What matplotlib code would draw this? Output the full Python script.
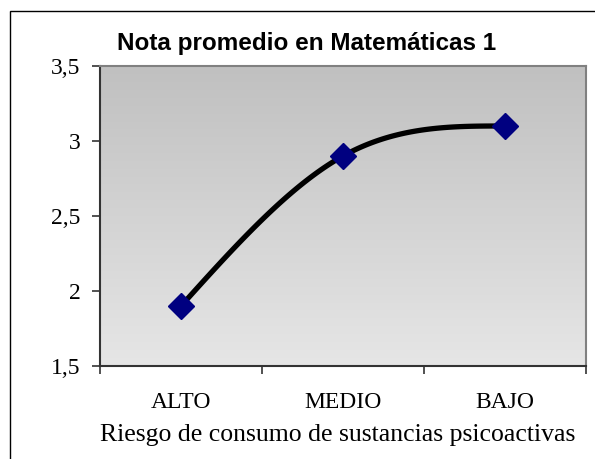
import numpy as np
import matplotlib
matplotlib.use("Agg")
import matplotlib.pyplot as plt
from matplotlib.patches import Rectangle

categories = ["ALTO", "MEDIO", "BAJO"]
notas = [1.9, 2.9, 3.1]
y_ticks = [1.5, 2, 2.5, 3, 3.5]
y_tick_labels = ["1,5", "2", "2,5", "3", "3,5"]


def smooth_curve(xs, ys, n=60):
    # curva suavizada (Hermite: tangentes Catmull-Rom dentro, extremos "naturales")
    p = np.column_stack([xs, ys]).astype(float)
    k = len(p)
    tang = np.zeros_like(p)
    for i in range(1, k - 1):
        tang[i] = (p[i + 1] - p[i - 1]) / 2
    tang[0] = (3 * (p[1] - p[0]) - tang[1]) / 2
    tang[-1] = (3 * (p[-1] - p[-2]) - tang[-2]) / 2
    t = np.linspace(0, 1, n)[:, None]
    out = []
    for i in range(k - 1):
        p1, p2 = p[i], p[i + 1]
        c1 = p1 + tang[i] / 3
        c2 = p2 - tang[i + 1] / 3
        seg = ((1 - t) ** 3) * p1 + 3 * ((1 - t) ** 2) * t * c1 + 3 * (1 - t) * t ** 2 * c2 + t ** 3 * p2
        out.append(seg)
    seg = np.vstack(out)
    return seg[:, 0], seg[:, 1]


fig = plt.figure(figsize=(5.95, 4.59), dpi=100)
ax = fig.add_axes([100 / 595, 1 - 366 / 459, 486 / 595, 300 / 459])

x = np.arange(len(categories))
ax.set_xlim(-0.5, len(categories) - 0.5)
ax.set_ylim(1.5, 3.5)

# fondo degradado
grad = np.linspace(0, 1, 256)[:, None]
ax.imshow(grad, extent=[0, 1, 0, 1], transform=ax.transAxes, aspect="auto",
          cmap=matplotlib.colors.LinearSegmentedColormap.from_list("g", ["#e6e6e6", "#c0c0c0"]),
          origin="lower", zorder=0)

sx, sy = smooth_curve(x, notas)
ax.plot(sx, sy, color="black", lw=3.8, solid_capstyle="round", zorder=2)
ax.plot(x, notas, ls="none", marker="D", ms=13, color="#000080", zorder=3)

serif = "Liberation Serif"
ax.set_yticks(y_ticks)
ax.set_yticklabels(y_tick_labels, fontfamily=serif, fontsize=17)
ax.set_xticks(x)
ax.set_xticklabels(categories, fontfamily=serif, fontsize=17)
ax.set_xticks(np.arange(-0.5, len(categories), 1), minor=True)
ax.tick_params(axis="x", which="major", length=0, pad=19)
ax.tick_params(axis="x", which="minor", length=6, width=1.2, color="#333333")
ax.tick_params(axis="y", length=6, width=1.2, color="#333333", pad=8)

for side in ["left", "bottom"]:
    ax.spines[side].set_color("#333333")
    ax.spines[side].set_linewidth(1.5)
for side in ["top", "right"]:
    ax.spines[side].set_color("#808080")
    ax.spines[side].set_linewidth(1.5)

ax.set_xlabel("Riesgo de consumo de sustancias psicoactivas",
              fontfamily=serif, fontsize=18.5, labelpad=8)
ax.xaxis.label.set_x(0.49)

fig.text(0.516, 1 - 50 / 459, "Nota promedio en Matemáticas 1", ha="center", va="baseline",
         fontfamily="Liberation Sans", fontweight="bold", fontsize=17.5)

# borde del area del grafico
fig.add_artist(Rectangle((10 / 595, -0.1), 1.1, 1 - 11 / 459 + 0.1, transform=fig.transFigure,
                         fill=False, edgecolor="black", lw=1.0))

fig.savefig("out.png", dpi=100)
